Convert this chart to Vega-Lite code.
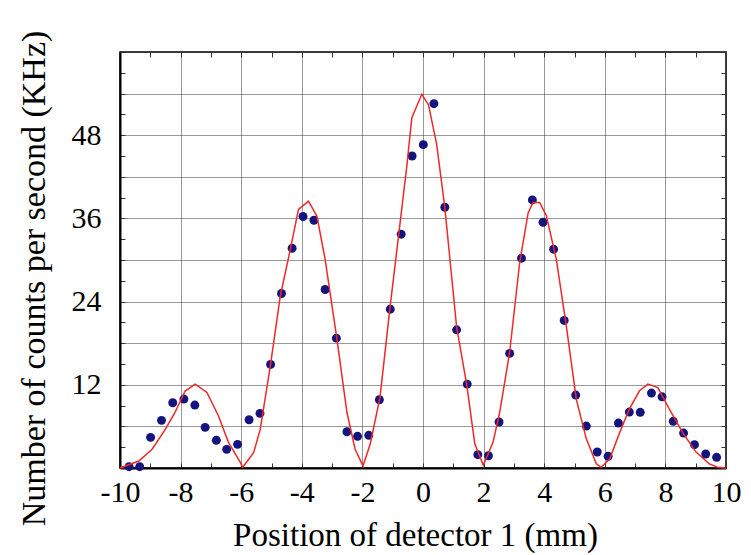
{
  "$schema": "https://vega.github.io/schema/vega-lite/v6.json",
  "width": 606,
  "height": 416,
  "autosize": "none",
  "padding": {"left": 120, "top": 52, "right": 25, "bottom": 87},
  "background": "white",
  "config": {
    "view": {"stroke": "#000", "strokeWidth": 1.5},
    "axis": {"labelFont": "Liberation Serif", "titleFont": "Liberation Serif", "labelColor": "#000", "titleColor": "#000", "titleFontWeight": "normal", "labelFontSize": 30, "titleFontSize": 33}
  },
  "datasets": {
    "pts": [
      {"x": -9.70, "y": 0.19}, {"x": -9.35, "y": 0.19}, {"x": -8.99, "y": 4.42}, {"x": -8.63, "y": 6.87},
      {"x": -8.26, "y": 9.41}, {"x": -7.89, "y": 9.94}, {"x": -7.53, "y": 9.08}, {"x": -7.19, "y": 5.86},
      {"x": -6.82, "y": 3.99}, {"x": -6.48, "y": 2.69}, {"x": -6.12, "y": 3.41}, {"x": -5.74, "y": 6.96},
      {"x": -5.38, "y": 7.88}, {"x": -5.03, "y": 14.94}, {"x": -4.67, "y": 25.17}, {"x": -4.32, "y": 31.7},
      {"x": -3.96, "y": 36.27}, {"x": -3.60, "y": 35.73}, {"x": -3.23, "y": 25.75}, {"x": -2.86, "y": 18.73},
      {"x": -2.51, "y": 5.23}, {"x": -2.16, "y": 4.57}, {"x": -1.79, "y": 4.71}, {"x": -1.44, "y": 9.84},
      {"x": -1.08, "y": 22.91}, {"x": -0.72, "y": 33.72}, {"x": -0.36, "y": 45.0}, {"x": 0.01, "y": 46.64},
      {"x": 0.36, "y": 52.55}, {"x": 0.72, "y": 37.61}, {"x": 1.11, "y": 19.93}, {"x": 1.46, "y": 12.1},
      {"x": 1.81, "y": 1.92}, {"x": 2.16, "y": 1.77}, {"x": 2.51, "y": 6.63}, {"x": 2.86, "y": 16.53},
      {"x": 3.25, "y": 30.26}, {"x": 3.61, "y": 38.66}, {"x": 3.96, "y": 35.45}, {"x": 4.31, "y": 31.56},
      {"x": 4.66, "y": 21.28}, {"x": 5.04, "y": 10.52}, {"x": 5.39, "y": 6.05}, {"x": 5.75, "y": 2.31},
      {"x": 6.11, "y": 1.69}, {"x": 6.45, "y": 6.48}, {"x": 6.81, "y": 8.07}, {"x": 7.17, "y": 8.03},
      {"x": 7.54, "y": 10.81}, {"x": 7.89, "y": 10.27}, {"x": 8.26, "y": 6.73}, {"x": 8.60, "y": 5.04},
      {"x": 8.96, "y": 3.36}, {"x": 9.33, "y": 2.02}, {"x": 9.69, "y": 1.54}
    ],
    "fit": [
      {"x": -10, "y": 0}, {"x": -9.38, "y": 1.0}, {"x": -8.94, "y": 2.7}, {"x": -8.5, "y": 5.6},
      {"x": -8.2, "y": 7.9}, {"x": -7.85, "y": 11.1}, {"x": -7.52, "y": 12.1}, {"x": -7.13, "y": 10.9},
      {"x": -6.75, "y": 7.5}, {"x": -6.42, "y": 3.7}, {"x": -6.03, "y": 0.8}, {"x": -5.95, "y": 0.1},
      {"x": -5.59, "y": 2.2}, {"x": -5.37, "y": 5.6}, {"x": -5.04, "y": 14.7}, {"x": -4.71, "y": 24.8},
      {"x": -4.38, "y": 31.5}, {"x": -4.11, "y": 37.3}, {"x": -3.78, "y": 38.5}, {"x": -3.5, "y": 36.3},
      {"x": -3.23, "y": 30.1}, {"x": -2.84, "y": 18.6}, {"x": -2.51, "y": 8.0}, {"x": -2.24, "y": 2.7},
      {"x": -1.98, "y": 0.3}, {"x": -1.74, "y": 3.5}, {"x": -1.42, "y": 10.2}, {"x": -1.09, "y": 23.1},
      {"x": -0.76, "y": 35.2}, {"x": -0.54, "y": 43.3}, {"x": -0.37, "y": 50.5}, {"x": -0.04, "y": 53.9},
      {"x": 0.18, "y": 52.4}, {"x": 0.45, "y": 46.7}, {"x": 0.72, "y": 37.6}, {"x": 1.11, "y": 20.3},
      {"x": 1.44, "y": 12.1}, {"x": 1.71, "y": 3.5}, {"x": 1.99, "y": 0.4}, {"x": 2.31, "y": 3.7},
      {"x": 2.53, "y": 8.0}, {"x": 2.86, "y": 16.7}, {"x": 3.19, "y": 29.6}, {"x": 3.47, "y": 36.8},
      {"x": 3.63, "y": 38.3}, {"x": 3.85, "y": 38.3}, {"x": 4.07, "y": 36.4}, {"x": 4.4, "y": 30.1},
      {"x": 4.73, "y": 20.5}, {"x": 5.06, "y": 9.9}, {"x": 5.39, "y": 4.2}, {"x": 5.72, "y": 0.6},
      {"x": 5.88, "y": 0.1}, {"x": 6.16, "y": 1.3}, {"x": 6.49, "y": 5.1}, {"x": 6.81, "y": 8.5},
      {"x": 7.14, "y": 11.1}, {"x": 7.42, "y": 12.1}, {"x": 7.75, "y": 11.6}, {"x": 8.13, "y": 8.5},
      {"x": 8.57, "y": 5.1}, {"x": 9.01, "y": 2.3}, {"x": 9.45, "y": 0.6}, {"x": 9.72, "y": 0.1},
      {"x": 10, "y": 0}
    ]
  },
  "resolve": {"axis": {"x": "independent", "y": "independent"}},
  "layer": [
    {
      "data": {"name": "pts"},
      "mark": {"type": "point", "filled": true, "size": 80, "color": "#14147f", "opacity": 1, "clip": false},
      "encoding": {
        "x": {"field": "x", "type": "quantitative", "scale": {"domain": [-10, 10], "nice": false, "zero": false},
          "axis": {"orient": "bottom", "title": "Position of detector 1 (mm)", "values": [-10,-9,-8,-7,-6,-5,-4,-3,-2,-1,0,1,2,3,4,5,6,7,8,9,10],
            "labelExpr": "datum.value % 2 === 0 ? replace(datum.label, '\u2212', '-') : ''", "labelFlush": false, "labelOverlap": false,
            "grid": true, "gridColor": "#333", "gridDash": [1, 1], "gridWidth": 1,
            "gridOpacity": {"condition": {"test": "datum.value % 2 !== 0", "value": 0}, "value": 1},
            "tickSize": -5, "tickColor": "#333", "domain": true, "domainColor": "#000", "domainWidth": 2,
            "labelPadding": 14, "titlePadding": 12, "titleX": 295}},
        "y": {"field": "y", "type": "quantitative", "scale": {"domain": [0, 60], "nice": false},
          "axis": {"orient": "left", "title": "Number of counts per second (KHz)", "values": [0,3,6,9,12,15,18,21,24,27,30,33,36,39,42,45,48,51,54,57,60],
            "labelExpr": "datum.value % 12 === 0 && datum.value > 0 && datum.value < 60 ? datum.label : ''", "labelOverlap": false, "labelFlush": false,
            "grid": true, "gridColor": "#333", "gridDash": [1, 1], "gridWidth": 1,
            "gridOpacity": {"condition": {"test": "datum.value % 6 !== 0", "value": 0}, "value": 1},
            "tickSize": -5, "tickColor": "#333", "domain": true, "domainColor": "#000", "domainWidth": 2,
            "labelPadding": 24, "titlePadding": 20, "titleFontSize": 34, "titleY": 226}}
      }
    },
    {
      "data": {"name": "fit"},
      "mark": {"type": "line", "color": "#f02828", "strokeWidth": 1.5, "clip": false},
      "encoding": {
        "x": {"field": "x", "type": "quantitative", "scale": {"domain": [-10, 10], "nice": false, "zero": false},
          "axis": {"orient": "top", "title": null, "labels": false, "values": [-10,-9,-8,-7,-6,-5,-4,-3,-2,-1,0,1,2,3,4,5,6,7,8,9,10], "grid": false, "tickSize": -5, "tickColor": "#333", "domain": false}},
        "y": {"field": "y", "type": "quantitative", "scale": {"domain": [0, 60], "nice": false},
          "axis": {"orient": "right", "title": null, "labels": false, "values": [0,3,6,9,12,15,18,21,24,27,30,33,36,39,42,45,48,51,54,57,60], "grid": false, "tickSize": -5, "tickColor": "#333", "domain": false}}
      }
    }
  ]
}
